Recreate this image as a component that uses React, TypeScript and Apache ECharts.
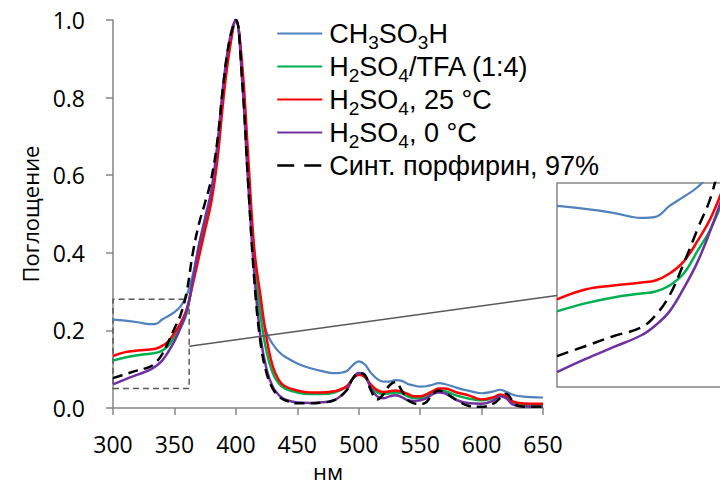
import React, { useEffect, useRef } from "react";
import * as echarts from "echarts";

const wavelengths = [300, 310, 320, 330, 335, 340, 345, 350, 355, 360, 365, 370, 375, 380, 385, 390, 395, 400, 405, 410, 415, 420, 425, 430, 435, 440, 450, 460, 470, 480, 490, 495, 500, 505, 510, 515, 520, 525, 530, 535, 540, 545, 550, 555, 560, 565, 570, 580, 590, 600, 610, 615, 620, 625, 630, 640, 650];

const ch3so3h = [0.228, 0.225, 0.221, 0.216, 0.217, 0.228, 0.237, 0.247, 0.262, 0.29, 0.345, 0.42, 0.48, 0.55, 0.67, 0.82, 0.93, 1.0, 0.87, 0.61, 0.38, 0.26, 0.195, 0.165, 0.145, 0.132, 0.115, 0.103, 0.095, 0.09, 0.095, 0.11, 0.12, 0.112, 0.09, 0.075, 0.068, 0.068, 0.072, 0.07, 0.062, 0.058, 0.055, 0.056, 0.06, 0.064, 0.062, 0.052, 0.044, 0.038, 0.043, 0.047, 0.042, 0.035, 0.031, 0.028, 0.027];

const h2so4Tfa = [0.122, 0.13, 0.136, 0.14, 0.142, 0.148, 0.16, 0.183, 0.207, 0.245, 0.33, 0.41, 0.475, 0.545, 0.66, 0.82, 0.935, 1.0, 0.87, 0.62, 0.37, 0.24, 0.145, 0.09, 0.063, 0.05, 0.04, 0.036, 0.036, 0.04, 0.055, 0.075, 0.088, 0.08, 0.056, 0.04, 0.036, 0.038, 0.04, 0.038, 0.03, 0.026, 0.026, 0.03, 0.038, 0.044, 0.043, 0.032, 0.024, 0.02, 0.026, 0.032, 0.027, 0.015, 0.01, 0.008, 0.008];

const h2so4At25 = [0.134, 0.144, 0.148, 0.151, 0.153, 0.16, 0.172, 0.193, 0.218, 0.255, 0.32, 0.39, 0.46, 0.53, 0.64, 0.8, 0.925, 1.0, 0.89, 0.65, 0.41, 0.29, 0.18, 0.108, 0.072, 0.056, 0.045, 0.04, 0.04, 0.043, 0.055, 0.075, 0.086, 0.08, 0.06, 0.046, 0.041, 0.043, 0.045, 0.042, 0.036, 0.03, 0.03, 0.035, 0.043, 0.05, 0.05, 0.04, 0.032, 0.022, 0.028, 0.035, 0.03, 0.018, 0.013, 0.011, 0.011];

const h2so4At0 = [0.061, 0.074, 0.086, 0.098, 0.108, 0.122, 0.145, 0.172, 0.207, 0.25, 0.33, 0.42, 0.49, 0.56, 0.68, 0.84, 0.95, 1.0, 0.85, 0.58, 0.345, 0.185, 0.1, 0.055, 0.033, 0.022, 0.014, 0.013, 0.015, 0.02, 0.045, 0.075, 0.09, 0.085, 0.05, 0.03, 0.025, 0.03, 0.033, 0.028, 0.02, 0.018, 0.02, 0.025, 0.035, 0.04, 0.038, 0.02, 0.012, 0.011, 0.02, 0.03, 0.025, 0.01, 0.005, 0.003, 0.003];

const synthPorphyrin = [0.077, 0.087, 0.097, 0.106, 0.118, 0.138, 0.17, 0.205, 0.24, 0.3, 0.4, 0.475, 0.53, 0.59, 0.69, 0.84, 0.95, 1.0, 0.85, 0.58, 0.33, 0.17, 0.09, 0.05, 0.03, 0.02, 0.012, 0.012, 0.014, 0.02, 0.045, 0.075, 0.09, 0.085, 0.045, 0.022, 0.035, 0.058, 0.067, 0.045, 0.02, 0.012, 0.01, 0.015, 0.035, 0.045, 0.04, 0.02, 0.005, 0.003, 0.012, 0.025, 0.037, 0.02, 0.005, 0.003, 0.003];

const seriesNames = ["CH3SO3H", "H2SO4/TFA (1:4)", "H2SO4, 25 °C", "H2SO4, 0 °C", "Синт. порфирин, 97%"];
const legendRich: Record<string, string> = {
  "CH3SO3H": "{n|CH}{s|3}{n|SO}{s|3}{n|H}",
  "H2SO4/TFA (1:4)": "{n|H}{s|2}{n|SO}{s|4}{n|/TFA (1:4)}",
  "H2SO4, 25 °C": "{n|H}{s|2}{n|SO}{s|4}{n|, 25 °C}",
  "H2SO4, 0 °C": "{n|H}{s|2}{n|SO}{s|4}{n|, 0 °C}",
  "Синт. порфирин, 97%": "{n|Синт. порфирин, 97%}{s| }",
};
const seriesValues = [ch3so3h, h2so4Tfa, h2so4At25, h2so4At0, synthPorphyrin];
const colors = ["#4F81BD", "#00B050", "#FF0000", "#7030A0", "#000000"];
const widths = [2.2, 2.5, 2.5, 2.5, 2.5];

const xTicks = { min: 300, max: 650, interval: 50 };
const yTicks = { min: 0, max: 1, interval: 0.2 };
const zoomBox = { x0: 300, x1: 362, y0: 0.05, y1: 0.28 };
const insetRange = { xMin: 300, xMax: 359, yMin: 0.046, yMax: 0.251 };

export default function App() {
  const ref = useRef<HTMLDivElement>(null);
  useEffect(() => {
    document.body.style.margin = "0";
    const chart = echarts.init(ref.current!, null, { renderer: "svg" });
    const axisColor = "#868686";
    const mainSeries = seriesNames.map((name, i) => ({
      name,
      type: "line",
      xAxisIndex: 0,
      yAxisIndex: 0,
      smooth: 0.4,
      showSymbol: false,
      symbol: "none",
      data: wavelengths.map((w, j) => [w, seriesValues[i][j]]),
      lineStyle: { color: colors[i], width: widths[i], type: i === 4 ? [10, 6] : "solid" },
      itemStyle: { color: colors[i] },
      z: 2 + i,
      ...(i === 0
        ? {
            markArea: {
              silent: true,
              itemStyle: { color: "rgba(0,0,0,0)", borderColor: "#595959", borderWidth: 1.5, borderType: [6, 4] },
              data: [[{ xAxis: zoomBox.x0, yAxis: zoomBox.y0 }, { xAxis: zoomBox.x1, yAxis: zoomBox.y1 }]],
            },
          }
        : {}),
    }));
    const insetSeries = seriesNames.map((name, i) => ({
      name,
      type: "line",
      xAxisIndex: 1,
      yAxisIndex: 1,
      smooth: 0.4,
      showSymbol: false,
      symbol: "none",
      clip: true,
      data: wavelengths.map((w, j) => [w, seriesValues[i][j]]),
      lineStyle: { color: colors[i], width: widths[i], type: i === 4 ? [12, 7] : "solid" },
      itemStyle: { color: colors[i] },
      z: 2 + i,
    }));
    const option: any = {
      animation: false,
      backgroundColor: "#ffffff",
      textStyle: { fontFamily: "Open Sans" },
      legend: {
        orient: "vertical",
        left: 271,
        top: 10,
        itemWidth: 45,
        itemHeight: 14,
        itemGap: -4,
        selectedMode: false,
        itemStyle: { color: "rgba(0,0,0,0)", borderColor: "rgba(0,0,0,0)", borderWidth: 0, opacity: 0 },
        data: seriesNames.map((name, i) =>
          i === 4 ? { name, lineStyle: { type: [17, 10], width: 2.5, color: "#000" } } : { name }
        ),
        formatter: (name: string) => legendRich[name] || name,
        textStyle: {
          padding: [0, 0, 0, 2],
          rich: {
            n: { fontSize: 27, fontFamily: "Liberation Sans, Arial", lineHeight: 28, color: "#000" },
            s: { fontSize: 19, fontFamily: "Liberation Sans, Arial", lineHeight: 10, padding: [18, 0, 0, 0], color: "#000" },
          },
        },
      },
      grid: [
        { left: 113, right: 177, top: 20, bottom: 77, containLabel: false, outerBoundsMode: "none" },
        { left: 557, right: -3, top: 183, bottom: 98, outerBoundsMode: "none", show: true, borderColor: axisColor, borderWidth: 1.5, backgroundColor: "rgba(0,0,0,0)" },
      ],
      xAxis: [
        {
          type: "value",
          gridIndex: 0,
          min: xTicks.min,
          max: xTicks.max,
          interval: xTicks.interval,
          name: "нм",
          nameLocation: "middle",
          nameGap: 44,
          nameTextStyle: { fontSize: 22, lineHeight: 22, color: "#000", fontFamily: "Open Sans" },
          axisLine: { show: true, lineStyle: { color: axisColor, width: 1.5 } },
          axisTick: { show: true, length: 7, lineStyle: { color: axisColor, width: 1.5 } },
          axisLabel: { fontSize: 23, color: "#000", margin: 24, fontFamily: "Open Sans" },
          splitLine: { show: false },
        },
        {
          type: "value",
          gridIndex: 1,
          min: insetRange.xMin,
          max: insetRange.xMax,
          show: false,
          splitLine: { show: false },
        },
      ],
      yAxis: [
        {
          type: "value",
          gridIndex: 0,
          min: yTicks.min,
          max: yTicks.max,
          interval: yTicks.interval,
          name: "Поглощение",
          nameLocation: "middle",
          nameGap: 72,
          nameTextStyle: { fontSize: 22, color: "#000", fontFamily: "Open Sans" },
          axisLine: { show: true, lineStyle: { color: axisColor, width: 1.5 } },
          axisTick: { show: true, length: 7, lineStyle: { color: axisColor, width: 1.5 } },
          axisLabel: { fontSize: 23, color: "#000", margin: 28, fontFamily: "Open Sans", formatter: (v: number) => v.toFixed(1) },
          splitLine: { show: false },
        },
        {
          type: "value",
          gridIndex: 1,
          min: insetRange.yMin,
          max: insetRange.yMax,
          show: false,
          splitLine: { show: false },
        },
      ],
      series: [...mainSeries, ...insetSeries],
    };
    chart.setOption(option);
    const p1 = chart.convertToPixel({ gridIndex: 0 } as any, [zoomBox.x1, 0.159]) as number[];
    const p2 = chart.convertToPixel({ gridIndex: 1 } as any, [insetRange.xMin, 0.138]) as number[];
    chart.setOption({
      graphic: [
        {
          type: "line",
          z: 20,
          silent: true,
          shape: { x1: p1[0], y1: p1[1], x2: p2[0], y2: p2[1] },
          style: { stroke: "#595959", lineWidth: 1.5 },
        },
      ],
    });
    return () => chart.dispose();
  }, []);
  return <div ref={ref} style={{ width: 720, height: 485 }} />;
}
